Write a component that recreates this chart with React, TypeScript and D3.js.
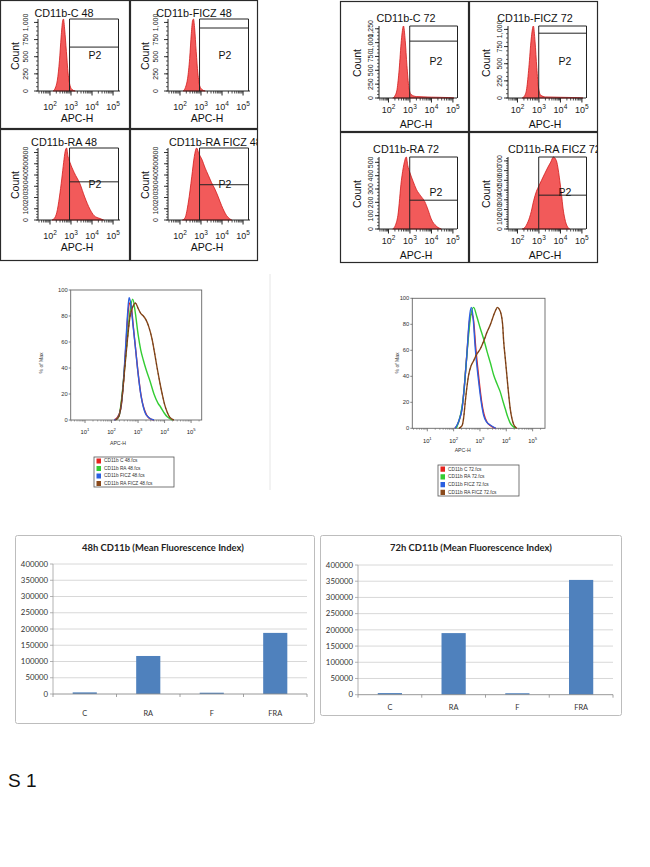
import React from "react";
import * as d3 from "d3";

type Pt = [number, number];

// ---------- Single-tube histograms: [log10 APC-H, fraction of modal count] ----------
const histC48: Pt[] = [[2.15,0],[2.25,0.04],[2.35,0.15],[2.45,0.42],[2.53,0.75],[2.6,0.97],[2.64,1],[2.7,0.85],[2.78,0.55],[2.86,0.25],[2.95,0.08],[3.05,0.02],[3.2,0]];
const histFICZ48: Pt[] = [[2.15,0],[2.26,0.05],[2.36,0.17],[2.46,0.45],[2.54,0.8],[2.6,0.98],[2.64,1],[2.7,0.86],[2.77,0.55],[2.85,0.25],[2.94,0.07],[3.05,0.02],[3.2,0]];
const histRA48: Pt[] = [[2.1,0],[2.2,0.02],[2.32,0.1],[2.45,0.32],[2.56,0.57],[2.65,0.8],[2.72,0.95],[2.79,1],[2.86,0.88],[2.95,0.8],[3.15,0.66],[3.43,0.5],[3.65,0.32],[3.9,0.15],[4.1,0.06],[4.38,0.02],[4.55,0]];
const histRAFICZ48: Pt[] = [[2.12,0],[2.24,0.03],[2.4,0.25],[2.56,0.6],[2.68,0.88],[2.79,1],[2.9,0.92],[3.03,0.85],[3.2,0.72],[3.35,0.62],[3.5,0.52],[3.66,0.43],[3.82,0.32],[3.98,0.2],[4.22,0.06],[4.46,0]];
const histC72: Pt[] = [[2.2,0],[2.3,0.03],[2.4,0.12],[2.5,0.4],[2.6,0.8],[2.7,1],[2.78,0.8],[2.86,0.45],[2.95,0.15],[3.05,0.05],[3.3,0.02],[4,0.012],[4.8,0.006],[5.05,0]];
const histFICZ72: Pt[] = [[2.22,0],[2.33,0.03],[2.43,0.13],[2.53,0.42],[2.64,0.82],[2.74,1],[2.82,0.78],[2.9,0.42],[2.98,0.14],[3.08,0.04],[3.3,0.015],[4,0.01],[4.8,0.005],[5.05,0]];
const histRA72: Pt[] = [[2.2,0],[2.32,0.05],[2.44,0.19],[2.6,0.67],[2.72,0.9],[2.83,1],[2.9,0.88],[2.99,0.79],[3.15,0.66],[3.3,0.55],[3.5,0.46],[3.69,0.38],[3.85,0.26],[3.99,0.14],[4.23,0.04],[4.46,0]];
const histRAFICZ72: Pt[] = [[2.22,0],[2.34,0.02],[2.49,0.1],[2.64,0.24],[2.76,0.4],[2.88,0.52],[3.0,0.6],[3.11,0.67],[3.27,0.77],[3.42,0.86],[3.55,0.93],[3.67,1],[3.81,0.95],[3.9,0.82],[3.97,0.67],[4.05,0.48],[4.12,0.29],[4.2,0.15],[4.27,0.07],[4.43,0]];

const histTitles48 = ["CD11b-C 48", "CD11b-FICZ 48", "CD11b-RA 48", "CD11b-RA FICZ 48"];
const histTitles72 = ["CD11b-C 72", "CD11b-FICZ 72", "CD11b-RA 72", "CD11b-RA FICZ 72"];
const gateLevels48 = [0.61, 0.875, 0.53, 0.49];
const gateLevels72 = [0.79, 0.9, 0.4, 0.47];
const countMax48 = [1050, 1050, 640, 640];
const countMax72 = [1300, 1050, 540, 740];
const countTicks48 = [[0,250,500,750,1000],[0,250,500,750,1000],[0,100,200,300,400,500,600],[0,100,200,300,400,500,600]];
const countTicks72 = [[0,250,500,750,1000,1250],[0,250,500,750,1000],[0,100,200,300,400,500],[0,100,200,300,400,500,600,700]];
const histDecades = [2, 3, 4, 5];

// ---------- Overlay histograms: [log10 APC-H, % of max] ----------
const ov48C: Pt[] = [[2.1,0],[2.22,2],[2.35,9],[2.46,32],[2.55,60],[2.62,82],[2.68,90],[2.74,88],[2.82,72],[2.92,52],[3.02,33],[3.12,18],[3.22,9],[3.32,4],[3.45,1],[3.6,0]];
const ov48RA: Pt[] = [[2.15,0],[2.28,3],[2.4,20],[2.5,42],[2.6,64],[2.7,84],[2.8,93],[2.9,82],[3.0,66],[3.1,54],[3.2,46],[3.3,39],[3.45,30],[3.6,20],[3.75,13],[3.85,10],[4.0,5],[4.1,2.5],[4.3,0]];
const ov48FICZ: Pt[] = [[2.1,0],[2.2,1],[2.34,8],[2.45,30],[2.53,56],[2.6,80],[2.66,94],[2.72,90],[2.8,75],[2.9,56],[3.0,36],[3.1,20],[3.2,10],[3.28,5],[3.4,2],[3.6,0]];
const ov48RAFICZ: Pt[] = [[2.15,0],[2.28,3],[2.4,18],[2.5,40],[2.6,62],[2.7,80],[2.8,87],[2.9,90],[3.0,86],[3.1,82],[3.2,80],[3.3,77],[3.4,72],[3.53,62],[3.62,52],[3.72,40],[3.82,29],[3.91,20],[4.0,12],[4.1,6],[4.2,2],[4.35,0]];
const ov72C: Pt[] = [[2.05,0],[2.14,2.5],[2.24,8],[2.33,17],[2.43,38],[2.52,62],[2.6,82],[2.68,88],[2.75,84],[2.84,62],[2.96,38],[3.06,21],[3.15,11],[3.26,5],[3.4,2],[3.6,0]];
const ov72RA: Pt[] = [[2.1,0],[2.19,5],[2.28,12],[2.38,26],[2.47,48],[2.57,72],[2.66,88],[2.76,93],[2.88,86],[3.01,77],[3.15,68],[3.27,59],[3.4,50],[3.52,41],[3.65,34],[3.77,28],[3.87,21],[3.96,15],[4.05,9],[4.15,4],[4.25,1.5],[4.34,0]];
const ov72FICZ: Pt[] = [[2.05,0],[2.13,2.5],[2.22,7],[2.32,15],[2.42,35],[2.51,59],[2.6,85],[2.67,93],[2.74,85],[2.82,62],[2.95,36],[3.05,20],[3.14,10],[3.25,5],[3.39,2.5],[3.6,0]];
const ov72RAFICZ: Pt[] = [[2.2,0],[2.32,2],[2.38,8],[2.44,20],[2.5,31],[2.57,41],[2.66,48],[2.76,52],[2.88,57],[3.01,61],[3.14,67],[3.27,74],[3.4,80],[3.52,87],[3.6,91],[3.66,93],[3.72,92],[3.8,88],[3.86,80],[3.9,67],[3.96,54],[4.02,41],[4.08,28],[4.15,15],[4.22,7],[4.28,3],[4.4,0]];
const legend48 = ["CD11b  C 48.fcs", "CD11b  RA 48.fcs", "CD11b  FICZ 48.fcs", "CD11b  RA FICZ 48.fcs"];
const legend72 = ["CD11b  C 72.fcs", "CD11b  RA 72.fcs", "CD11b  FICZ 72.fcs", "CD11b  RA FICZ 72.fcs"];
const overlayColors = ["#e4231f", "#33cc33", "#2b5fe0", "#8a4a1c"];
const overlayDecades = [1, 2, 3, 4, 5];
const pctTicks = [0, 20, 40, 60, 80, 100];

// ---------- Mean fluorescence index bars ----------
const barCategories = ["C", "RA", "F", "FRA"];
const mfi48 = [5000, 117000, 4000, 188000];
const mfi72 = [5000, 190000, 4500, 354000];
const mfiTicks = [0, 50000, 100000, 150000, 200000, 250000, 300000, 350000, 400000];

const ARIAL = "'Liberation Sans', Arial, sans-serif";
const CALIBRI = "Lato, 'Open Sans', sans-serif";

type HistLayout = { l: number; r: number; t: number; b: number; dom: [number, number]; gate: number; gateR: number; titleY: number; titleX: number; tickY: number; labelY: number; countX: number; countY: number; yLabX: number; p2x: number; p2y: number };

const layout48: HistLayout = { l: 38, r: 120, t: 19, b: 91, dom: [1.43, 5.33], gate: 2.93, gateR: 118.5, titleY: 17, titleX: 64, tickY: 110, labelY: 122, countX: 15, countY: 56, yLabX: 26, p2x: 95, p2y: 58.5 };
const layout72: HistLayout = { l: 39, r: 117, t: 25, b: 97, dom: [1.56, 5.19], gate: 2.99, gateR: 117.5, titleY: 21, titleX: 66, tickY: 112, labelY: 127, countX: 17, countY: 62, yLabX: 31, p2x: 96, p2y: 63.5 };

function Pow({ x, y, e, fs, es }: { x: number; y: number; e: number; fs: number; es: number }) {
  return (
    <text x={x} y={y} textAnchor="middle" fontSize={fs} fontFamily={ARIAL} fill="#222">
      10<tspan dy={-fs * 0.45} fontSize={es}>{e}</tspan>
    </text>
  );
}

function HistPanel({ id, ox, oy, w, h, L, title, data, gate, cMax, cTicks, titleStart }: { id: string; ox: number; oy: number; w: number; h: number; L: HistLayout; title: string; data: Pt[]; gate: number; cMax: number; cTicks: number[]; titleStart: boolean }) {
  const x = d3.scaleLinear().domain(L.dom).range([L.l, L.r]);
  const y = d3.scaleLinear().domain([0, 1]).range([L.b, L.t]);
  const area = d3.area<Pt>().x((d) => x(d[0])).y0(L.b).y1((d) => y(d[1])).curve(d3.curveMonotoneX);
  const minor: number[] = [];
  for (let d = 1; d <= 4; d++) for (let m = 2; m <= 9; m++) {
    const v = d + Math.log10(m);
    if (v > L.dom[0] && v < L.dom[1]) minor.push(v);
  }
  const cy = d3.scaleLinear().domain([0, cMax]).range([L.b, L.t]);
  const step = cTicks[1] - cTicks[0];
  const cMinor: number[] = [];
  for (let v = 0; v <= cMax; v += step / 4) cMinor.push(v);
  const gx = x(L.gate);
  const gy = y(gate);
  return (
    <g transform={`translate(${ox},${oy})`}>
      <clipPath id={id}><rect x={1} y={1} width={w - 2} height={h - 2} /></clipPath>
      <rect x={0.5} y={0.5} width={w - 1} height={h - 1} fill="#fff" stroke="#2a2a2a" strokeWidth={1.2} />
      <g clipPath={`url(#${id})`}>
        <text x={titleStart ? 39 : L.titleX} y={L.titleY} textAnchor={titleStart ? "start" : "middle"} fontSize={10.8} fontFamily={ARIAL} fill="#111">{title}</text>
        <path d={area(data) || ""} fill="#f25a5a" stroke="#d21a1a" strokeWidth={0.8} />
        <line x1={gx} x2={gx} y1={L.t} y2={L.b} stroke="#222" strokeWidth={1} />
        <line x1={gx} x2={L.gateR} y1={L.t} y2={L.t} stroke="#222" strokeWidth={1} />
        <line x1={L.gateR} x2={L.gateR} y1={L.t} y2={L.b} stroke="#222" strokeWidth={1} />
        <line x1={gx} x2={L.gateR} y1={gy} y2={gy} stroke="#222" strokeWidth={1} />
        <text x={L.p2x} y={L.p2y} textAnchor="middle" fontSize={10.5} fontFamily={ARIAL} fill="#111">P2</text>
        <line x1={L.l} x2={L.l} y1={L.t} y2={L.b} stroke="#222" strokeWidth={1} />
        <line x1={L.l} x2={L.r} y1={L.b} y2={L.b} stroke="#222" strokeWidth={1} />
        {minor.map((v, i) => <line key={"m" + i} x1={x(v)} x2={x(v)} y1={L.b} y2={L.b + 2.5} stroke="#222" strokeWidth={0.8} />)}
        {histDecades.map((e) => <line key={"M" + e} x1={x(e)} x2={x(e)} y1={L.b} y2={L.b + 4.5} stroke="#222" strokeWidth={1} />)}
        {histDecades.map((e) => <Pow key={"t" + e} x={x(e)} y={L.tickY} e={e} fs={9} es={6.5} />)}
        <text x={(L.l + L.r) / 2 - 2} y={L.labelY} textAnchor="middle" fontSize={10.5} fontFamily={ARIAL} fill="#111">APC-H</text>
        {cMinor.map((v, i) => <line key={"cm" + i} x1={L.l - 2} x2={L.l} y1={cy(v)} y2={cy(v)} stroke="#222" strokeWidth={0.7} />)}
        {cTicks.map((v) => <line key={"ct" + v} x1={L.l - 4} x2={L.l} y1={cy(v)} y2={cy(v)} stroke="#222" strokeWidth={0.9} />)}
        {cTicks.map((v) => (
          <text key={"cl" + v} transform={`translate(${L.yLabX},${cy(v)}) rotate(-90)`} textAnchor="middle" dy="0.35em" fontSize={7} fontFamily={ARIAL} fill="#222">{d3.format(",")(v)}</text>
        ))}
        <text transform={`translate(${L.countX},${L.countY}) rotate(-90)`} textAnchor="middle" dy="0.35em" fontSize={10.5} fontFamily={ARIAL} fill="#111">Count</text>
      </g>
    </g>
  );
}

type OvLayout = { l: number; r: number; t: number; b: number; dom: [number, number]; tickY: number; labX: number; labY: number; pctX: number; pctY: number; lg: [number, number, number, number] };

const ovLayout48: OvLayout = { l: 70.7, r: 201.7, t: 290, b: 420, dom: [0.46, 5.4], tickY: 434, labX: 118, labY: 445, pctX: 43, pctY: 363, lg: [94, 457, 80, 30] };
const ovLayout72: OvLayout = { l: 412.3, r: 545, t: 298.3, b: 428.3, dom: [0.43, 5.47], tickY: 443, labX: 462.7, labY: 452, pctX: 399, pctY: 363, lg: [438, 465, 81, 31] };

function Overlay({ L, series, labels }: { L: OvLayout; series: Pt[][]; labels: string[] }) {
  const x = d3.scaleLinear().domain(L.dom).range([L.l, L.r]);
  const y = d3.scaleLinear().domain([0, 100]).range([L.b, L.t]);
  const line = d3.line<Pt>().x((d) => x(d[0])).y((d) => y(d[1])).curve(d3.curveMonotoneX);
  const minor: number[] = [];
  for (let d = 0; d <= 5; d++) for (let m = 2; m <= 9; m++) {
    const v = d + Math.log10(m);
    if (v > L.dom[0] && v < L.dom[1]) minor.push(v);
  }
  const [lx, ly, lw, lh] = L.lg;
  const rowH = lh / 4;
  return (
    <g>
      <rect x={L.l} y={L.t} width={L.r - L.l} height={L.b - L.t} fill="#fff" stroke="#666" strokeWidth={0.9} />
      {series.map((s, i) => (
        <path key={i} d={line(s) || ""} fill="none" stroke={overlayColors[i]} strokeWidth={1.4} />
      ))}
      {series.map((s, i) => (
        <path key={"d" + i} d={line(s) || ""} fill="none" stroke={i === 3 ? "#5a2e10" : "none"} strokeWidth={0.6} strokeDasharray="2 3" />
      ))}
      {pctTicks.map((v) => <line key={"yt" + v} x1={L.l - 2} x2={L.l} y1={y(v)} y2={y(v)} stroke="#666" strokeWidth={0.8} />)}
      {pctTicks.map((v) => <text key={"yl" + v} x={L.l - 3} y={y(v)} dy="0.35em" textAnchor="end" fontSize={5.8} fontFamily={ARIAL} fill="#333">{v}</text>)}
      {minor.map((v, i) => <line key={"m" + i} x1={x(v)} x2={x(v)} y1={L.b} y2={L.b + 1.5} stroke="#666" strokeWidth={0.6} />)}
      {overlayDecades.map((e) => <line key={"M" + e} x1={x(e)} x2={x(e)} y1={L.b} y2={L.b + 3} stroke="#666" strokeWidth={0.8} />)}
      {overlayDecades.map((e) => <Pow key={"t" + e} x={x(e)} y={L.tickY} e={e} fs={5.8} es={4.2} />)}
      <text x={L.labX} y={L.labY} textAnchor="middle" fontSize={5.2} fontFamily={ARIAL} fill="#333">APC-H</text>
      <text transform={`translate(${L.pctX},${L.pctY}) rotate(-90)`} textAnchor="middle" fontSize={5} fontFamily={ARIAL} fill="#333">% of Max</text>
      <rect x={lx} y={ly} width={lw} height={lh} fill="#fff" stroke="#555" strokeWidth={0.8} />
      {labels.map((t, i) => (
        <g key={t}>
          <rect x={lx + 2.5} y={ly + i * rowH + 1.5} width={4.5} height={rowH - 2.5} fill={overlayColors[i]} />
          <text x={lx + 10} y={ly + (i + 0.5) * rowH} dy="0.35em" fontSize={4.8} fontFamily={ARIAL} fill="#333">{t}</text>
        </g>
      ))}
    </g>
  );
}

type BarLayout = { box: [number, number, number, number]; l: number; r: number; y0: number; yTop: number; titleX: number; titleY: number; catY: number };
const barLayout48: BarLayout = { box: [15, 535, 299, 188], l: 53, r: 307, y0: 694, yTop: 564, titleX: 163, titleY: 548, catY: 713 };
const barLayout72: BarLayout = { box: [320, 535, 301, 180], l: 358, r: 613, y0: 694.7, yTop: 565, titleX: 471, titleY: 548, catY: 707 };

function MfiChart({ L, title, values }: { L: BarLayout; title: string; values: number[] }) {
  const x = d3.scaleBand<string>().domain(barCategories).range([L.l, L.r]).paddingInner(0.62).paddingOuter(0.31);
  const y = d3.scaleLinear().domain([0, 400000]).range([L.y0, L.yTop]);
  const step = (L.r - L.l) / barCategories.length;
  const [bx, by, bw, bh] = L.box;
  return (
    <g>
      <rect x={bx + 0.5} y={by + 0.5} width={bw} height={bh} fill="#fff" stroke="#bdbdbd" strokeWidth={1} rx={2} />
      <text x={L.titleX} y={L.titleY} textAnchor="middle" dy="0.35em" fontSize={9.4} fontWeight="bold" fontFamily={CALIBRI} fill="#222">{title}</text>
      {mfiTicks.map((v) => v > 0 && <line key={"g" + v} x1={L.l} x2={L.r} y1={y(v)} y2={y(v)} stroke="#d4d4d4" strokeWidth={0.9} />)}
      {mfiTicks.map((v) => <line key={"tk" + v} x1={L.l - 3} x2={L.l} y1={y(v)} y2={y(v)} stroke="#a0a0a0" strokeWidth={0.8} />)}
      {mfiTicks.map((v) => <text key={"yl" + v} x={L.l - 5} y={y(v)} dy="0.35em" textAnchor="end" fontSize={7.8} fontFamily={CALIBRI} fill="#333">{v}</text>)}
      <line x1={L.l} x2={L.l} y1={L.yTop} y2={L.y0} stroke="#a0a0a0" strokeWidth={0.8} />
      {values.map((v, i) => (
        <rect key={i} x={x(barCategories[i])} y={y(v)} width={x.bandwidth()} height={L.y0 - y(v)} fill="#4f81bd" />
      ))}
      <line x1={L.l} x2={L.r} y1={L.y0} y2={L.y0} stroke="#8c8c8c" strokeWidth={0.9} />
      {d3.range(barCategories.length + 1).map((i) => <line key={"xt" + i} x1={L.l + i * step} x2={L.l + i * step} y1={L.y0} y2={L.y0 + 3} stroke="#8c8c8c" strokeWidth={0.8} />)}
      {barCategories.map((c) => <text key={c} x={(x(c) || 0) + x.bandwidth() / 2} y={L.catY} dy="0.35em" textAnchor="middle" fontSize={7.4} fontFamily={CALIBRI} fill="#333">{c}</text>)}
    </g>
  );
}

const hist48 = [histC48, histFICZ48, histRA48, histRAFICZ48];
const hist72 = [histC72, histFICZ72, histRA72, histRAFICZ72];

export default function App() {
  const pos48 = [[0, 0, 130, 129], [130, 0, 128, 129], [0, 129, 130, 132], [130, 129, 128, 132]];
  const pos72 = [[340, 1, 129, 131], [469, 1, 129, 131], [340, 132, 129, 131], [469, 132, 129, 131]];
  return (
    <svg width={650} height={867} style={{ position: "absolute", left: 0, top: 0, background: "#fff" }} xmlns="http://www.w3.org/2000/svg">
      <rect x={0} y={0} width={650} height={867} fill="#fff" />
      {hist48.map((d, i) => (
        <HistPanel key={"a" + i} id={"clipA" + i} ox={pos48[i][0]} oy={pos48[i][1]} w={pos48[i][2]} h={pos48[i][3]} L={layout48} title={histTitles48[i]} data={d} gate={gateLevels48[i]} cMax={countMax48[i]} cTicks={countTicks48[i]} titleStart={i === 3} />
      ))}
      {hist72.map((d, i) => (
        <HistPanel key={"b" + i} id={"clipB" + i} ox={pos72[i][0]} oy={pos72[i][1]} w={pos72[i][2]} h={pos72[i][3]} L={layout72} title={histTitles72[i]} data={d} gate={gateLevels72[i]} cMax={countMax72[i]} cTicks={countTicks72[i]} titleStart={i === 3} />
      ))}
      <line x1={270} x2={270} y1={274} y2={490} stroke="#e6e6e6" strokeWidth={1} />
      <Overlay L={ovLayout48} series={[ov48C, ov48RA, ov48FICZ, ov48RAFICZ]} labels={legend48} />
      <Overlay L={ovLayout72} series={[ov72C, ov72RA, ov72FICZ, ov72RAFICZ]} labels={legend72} />
      <MfiChart L={barLayout48} title="48h CD11b (Mean Fluorescence Index)" values={mfi48} />
      <MfiChart L={barLayout72} title="72h CD11b (Mean Fluorescence Index)" values={mfi72} />
      <text x={8} y={787} fontSize={19} fontFamily={ARIAL} fill="#111">S 1</text>
    </svg>
  );
}
